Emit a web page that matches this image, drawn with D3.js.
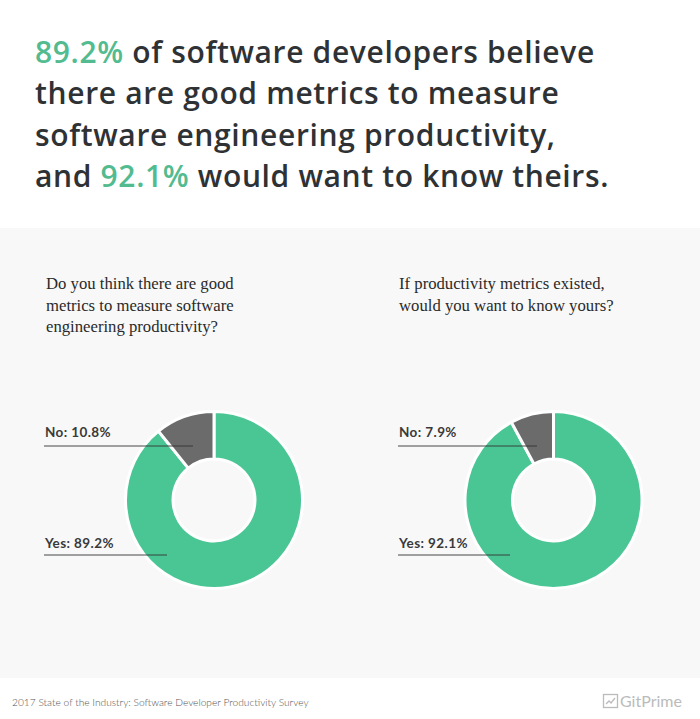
<!DOCTYPE html>
<html><head><meta charset="utf-8">
<script src="https://cdn.jsdelivr.net/npm/d3@7"></script>
<style>body{margin:0;background:#fff;}svg{display:block;}</style>
</head><body>
<script>
// ---- data ----
const categories = ["Yes", "No"];
const q1Values = [89.2, 10.8];
const q2Values = [92.1, 7.9];
const questions = [
  ["Do you think there are good", "metrics to measure software", "engineering productivity?"],
  ["If productivity metrics existed,", "would you want to know yours?"]
];
const titleLines = [
  [{t:"89.2%", g:true}, {t:" of software developers believe"}],
  [{t:"there are good metrics to measure"}],
  [{t:"software engineering productivity,"}],
  [{t:"and "}, {t:"92.1%", g:true}, {t:" would want to know theirs."}]
];
const footerText = "2017 State of the Industry: Software Developer Productivity Survey";
const brandText = "GitPrime";

// ---- layout ----
const W = 700, H = 719;
const green = "#4ac694", gray = "#6b6b6b", dark = "#2f3235", titleGreen = "#52bb8f";
const svg = d3.select("body").append("svg").attr("width", W).attr("height", H);

svg.append("rect").attr("x",0).attr("y",228).attr("width",W).attr("height",450).attr("fill","#f8f8f8");

// title
const tt = svg.append("g");
titleLines.forEach((line, i) => {
  const t = tt.append("text").attr("x", 35).attr("y", 63 + i*41.3)
    .attr("font-family","Open Sans").attr("font-weight",600).attr("font-size",30)
    .attr("letter-spacing",0.65).attr("fill", dark);
  line.forEach(s => t.append("tspan").text(s.t).attr("fill", s.g ? titleGreen : dark));
});

const colorScale = d3.scaleOrdinal().domain(categories).range([green, gray]);
const pie = d3.pie().sort(null).value(d => d.v);
const arc = d3.arc().innerRadius(41).outerRadius(88.5);

const panels = [
  {vals:q1Values, cx:214, cy:500, qx:46, lx:45, noEnd:193, yesEnd:167, q:questions[0]},
  {vals:q2Values, cx:553.5, cy:500, qx:399, lx:399, noEnd:537, yesEnd:510, q:questions[1]}
];

panels.forEach(p => {
  p.q.forEach((l, i) => svg.append("text").attr("x", p.qx).attr("y", 289 + i*21.5)
    .attr("font-family","Liberation Serif").attr("font-size",16.7).attr("fill","#2a2a2a").text(l));
  const data = categories.map((c, i) => ({c, v:p.vals[i]}));
  const g = svg.append("g").attr("transform", `translate(${p.cx},${p.cy})`);
  g.selectAll("path").data(pie(data)).join("path")
    .attr("d", arc).attr("fill", d => colorScale(d.data.c))
    .attr("stroke","#fff").attr("stroke-width",3);
  const lab = [
    {c:"No", y:437, ly:446, end:p.noEnd},
    {c:"Yes", y:548, ly:555, end:p.yesEnd}
  ];
  lab.forEach(l => {
    const v = p.vals[categories.indexOf(l.c)];
    svg.append("text").attr("x", p.lx).attr("y", l.y)
      .attr("font-family","Lato").attr("font-weight",700).attr("font-size",13.5).attr("fill","#3a3a3a")
      .attr("letter-spacing",0.4)
      .text(`${l.c}: ${v}%`);
    svg.append("line").attr("x1", p.lx-1).attr("x2", l.end).attr("y1", l.ly).attr("y2", l.ly)
      .attr("stroke","#333").attr("stroke-width",0.9);
  });
});

// footer
svg.append("text").attr("x",12).attr("y",706).attr("font-family","Lato").attr("font-weight",300)
  .attr("font-size",10.2).attr("fill","#555").text(footerText);
const ic = svg.append("g").attr("transform","translate(603,694)");
ic.append("rect").attr("x",0.5).attr("y",0.5).attr("width",14).attr("height",13).attr("fill","none").attr("stroke","#bbb").attr("stroke-width",1.3);
ic.append("polyline").attr("points","3,10 6,7 8,9 12,4").attr("fill","none").attr("stroke","#bbb").attr("stroke-width",1.3);
svg.append("text").attr("x",620).attr("y",707).attr("font-family","Lato").attr("font-size",16)
  .attr("fill","#bbb").text(brandText);
</script>
</body></html>
